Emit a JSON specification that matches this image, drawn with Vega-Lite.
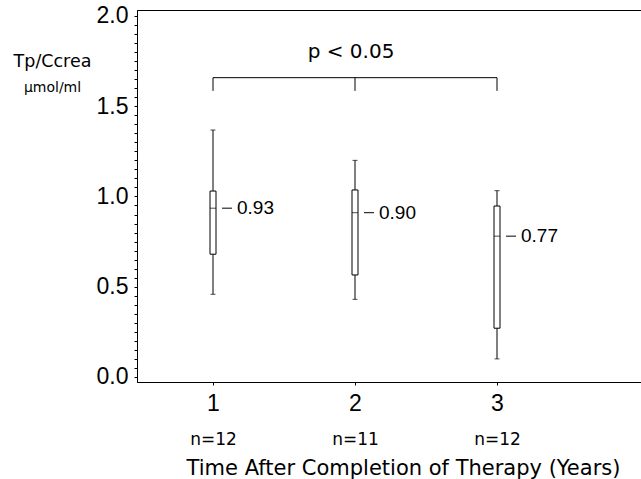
{
  "$schema": "https://vega.github.io/schema/vega-lite/v6.json",
  "autosize": "none",
  "padding": {"left": 137, "top": 10, "right": 0, "bottom": 97},
  "width": 507,
  "height": 372,
  "background": "white",
  "config": {
    "view": {"stroke": "black", "strokeWidth": 1},
    "font": "Liberation Sans",
    "axis": {
      "grid": false,
      "domainColor": "black",
      "tickColor": "black",
      "labelColor": "black",
      "titleColor": "black",
      "labelFont": "Liberation Sans",
      "titleFont": "DejaVu Sans",
      "titleFontWeight": "normal"
    }
  },
  "datasets": {
    "boxes": [
      {"year": 1, "low": 0.458, "q1": 0.68, "median": 0.935, "q3": 1.03, "high": 1.368, "label": "0.93", "n": "n=12"},
      {"year": 2, "low": 0.43, "q1": 0.565, "median": 0.91, "q3": 1.036, "high": 1.2, "label": "0.90", "n": "n=11"},
      {"year": 3, "low": 0.1, "q1": 0.27, "median": 0.78, "q3": 0.947, "high": 1.032, "label": "0.77", "n": "n=12"}
    ],
    "bracket": [
      {"year": 1, "top": 1.658, "bottom": 1.585},
      {"year": 2, "top": 1.658, "bottom": 1.585},
      {"year": 3, "top": 1.658, "bottom": 1.585}
    ],
    "bracketTop": [
      {"start": 1, "end": 3, "y": 1.658}
    ],
    "pval": [
      {"year": 2, "y": 1.8, "text": "p < 0.05"}
    ]
  },
  "layer": [
    {
      "data": {"name": "boxes"},
      "mark": {"type": "rule", "color": "black", "strokeWidth": 1},
      "encoding": {
        "x": {
          "field": "year", "type": "quantitative",
          "scale": {"domain": [0.5, 4.0], "nice": false, "zero": false},
          "axis": {"values": [1, 2, 3], "format": "d", "tickSize": 3, "labelFontSize": 23, "labelPadding": 7, "title": null, "orient": "bottom"}
        },
        "y": {
          "field": "low", "type": "quantitative",
          "scale": {"domain": [-0.028, 2.033], "nice": false, "zero": false},
          "axis": {
            "orient": "left",
            "values": [0, 0.05, 0.1, 0.15, 0.2, 0.25, 0.3, 0.35, 0.4, 0.45, 0.5, 0.55, 0.6, 0.65, 0.7, 0.75, 0.8, 0.85, 0.9, 0.95, 1.0, 1.05, 1.1, 1.15, 1.2, 1.25, 1.3, 1.35, 1.4, 1.45, 1.5, 1.55, 1.6, 1.65, 1.7, 1.75, 1.8, 1.85, 1.9, 1.95, 2.0],
            "labelExpr": "abs(datum.value*2 - round(datum.value*2)) < 0.001 ? format(datum.value, '.1f') : ''",
            "tickSize": 3,
            "labelFontSize": 23,
            "labelPadding": 6,
            "labelOverlap": false,
            "title": "Tp/Ccrea",
            "titleFontSize": 17.5,
            "titleAngle": 0,
            "titleAlign": "center",
            "titleBaseline": "middle",
            "titleX": -85,
            "titleY": 51
          }
        },
        "y2": {"field": "high"}
      }
    },
    {
      "data": {"name": "boxes"},
      "mark": {"type": "bar", "width": 6, "fill": "white", "stroke": "black", "strokeWidth": 1},
      "encoding": {
        "x": {
          "field": "year", "type": "quantitative",
          "axis": {
            "orient": "bottom", "values": [1, 2, 3], "domain": false, "ticks": false, "tickSize": 0,
            "labelExpr": "datum.value == 1 ? 'n=12' : datum.value == 2 ? 'n=11' : 'n=12'",
            "labelFont": "DejaVu Sans",
            "labelFontSize": 17, "labelPadding": 49,
            "title": "Time After Completion of Therapy (Years)",
            "titleFontSize": 21, "titleX": 266, "titleY": 86, "titleBaseline": "middle", "titleAlign": "center"
          }
        },
        "y": {
          "field": "q1", "type": "quantitative",
          "axis": {
            "orient": "left", "domain": false, "ticks": false, "labels": false,
            "title": "µmol/ml", "titleFontSize": 14, "titleAngle": 0, "titleAlign": "center", "titleBaseline": "middle",
            "titleX": -85, "titleY": 77
          }
        },
        "y2": {"field": "q3"}
      }
    },
    {
      "data": {"name": "boxes"},
      "mark": {"type": "tick", "orient": "horizontal", "size": 6, "thickness": 1, "color": "black"},
      "encoding": {
        "x": {"field": "year", "type": "quantitative", "axis": null},
        "y": {"field": "median", "type": "quantitative", "axis": null}
      }
    },
    {
      "data": {"name": "boxes"},
      "mark": {"type": "tick", "orient": "horizontal", "size": 5, "thickness": 1, "color": "black"},
      "encoding": {
        "x": {"field": "year", "type": "quantitative", "axis": null},
        "y": {"field": "low", "type": "quantitative", "axis": null}
      }
    },
    {
      "data": {"name": "boxes"},
      "mark": {"type": "tick", "orient": "horizontal", "size": 5, "thickness": 1, "color": "black"},
      "encoding": {
        "x": {"field": "year", "type": "quantitative", "axis": null},
        "y": {"field": "high", "type": "quantitative", "axis": null}
      }
    },
    {
      "data": {"name": "boxes"},
      "mark": {"type": "rule", "color": "black", "strokeWidth": 1, "xOffset": 9, "x2Offset": 19},
      "encoding": {
        "x": {"field": "year", "type": "quantitative", "axis": null},
        "x2": {"field": "year"},
        "y": {"field": "median", "type": "quantitative", "axis": null}
      }
    },
    {
      "data": {"name": "boxes"},
      "mark": {"type": "text", "align": "left", "baseline": "middle", "dx": 24, "fontSize": 19, "color": "black", "font": "Liberation Sans"},
      "encoding": {
        "x": {"field": "year", "type": "quantitative", "axis": null},
        "y": {"field": "median", "type": "quantitative", "axis": null},
        "text": {"field": "label"}
      }
    },
    {
      "data": {"name": "bracketTop"},
      "mark": {"type": "rule", "color": "black", "strokeWidth": 1},
      "encoding": {
        "x": {"field": "start", "type": "quantitative", "axis": null},
        "x2": {"field": "end"},
        "y": {"field": "y", "type": "quantitative", "axis": null}
      }
    },
    {
      "data": {"name": "bracket"},
      "mark": {"type": "rule", "color": "black", "strokeWidth": 1},
      "encoding": {
        "x": {"field": "year", "type": "quantitative", "axis": null},
        "y": {"field": "bottom", "type": "quantitative", "axis": null},
        "y2": {"field": "top"}
      }
    },
    {
      "data": {"name": "pval"},
      "mark": {"type": "text", "align": "center", "baseline": "middle", "dx": -4, "fontSize": 20, "color": "black", "font": "DejaVu Sans"},
      "encoding": {
        "x": {"field": "year", "type": "quantitative", "axis": null},
        "y": {"field": "y", "type": "quantitative", "axis": null},
        "text": {"field": "text"}
      }
    }
  ],
  "resolve": {"axis": {"x": "independent", "y": "independent"}}
}
